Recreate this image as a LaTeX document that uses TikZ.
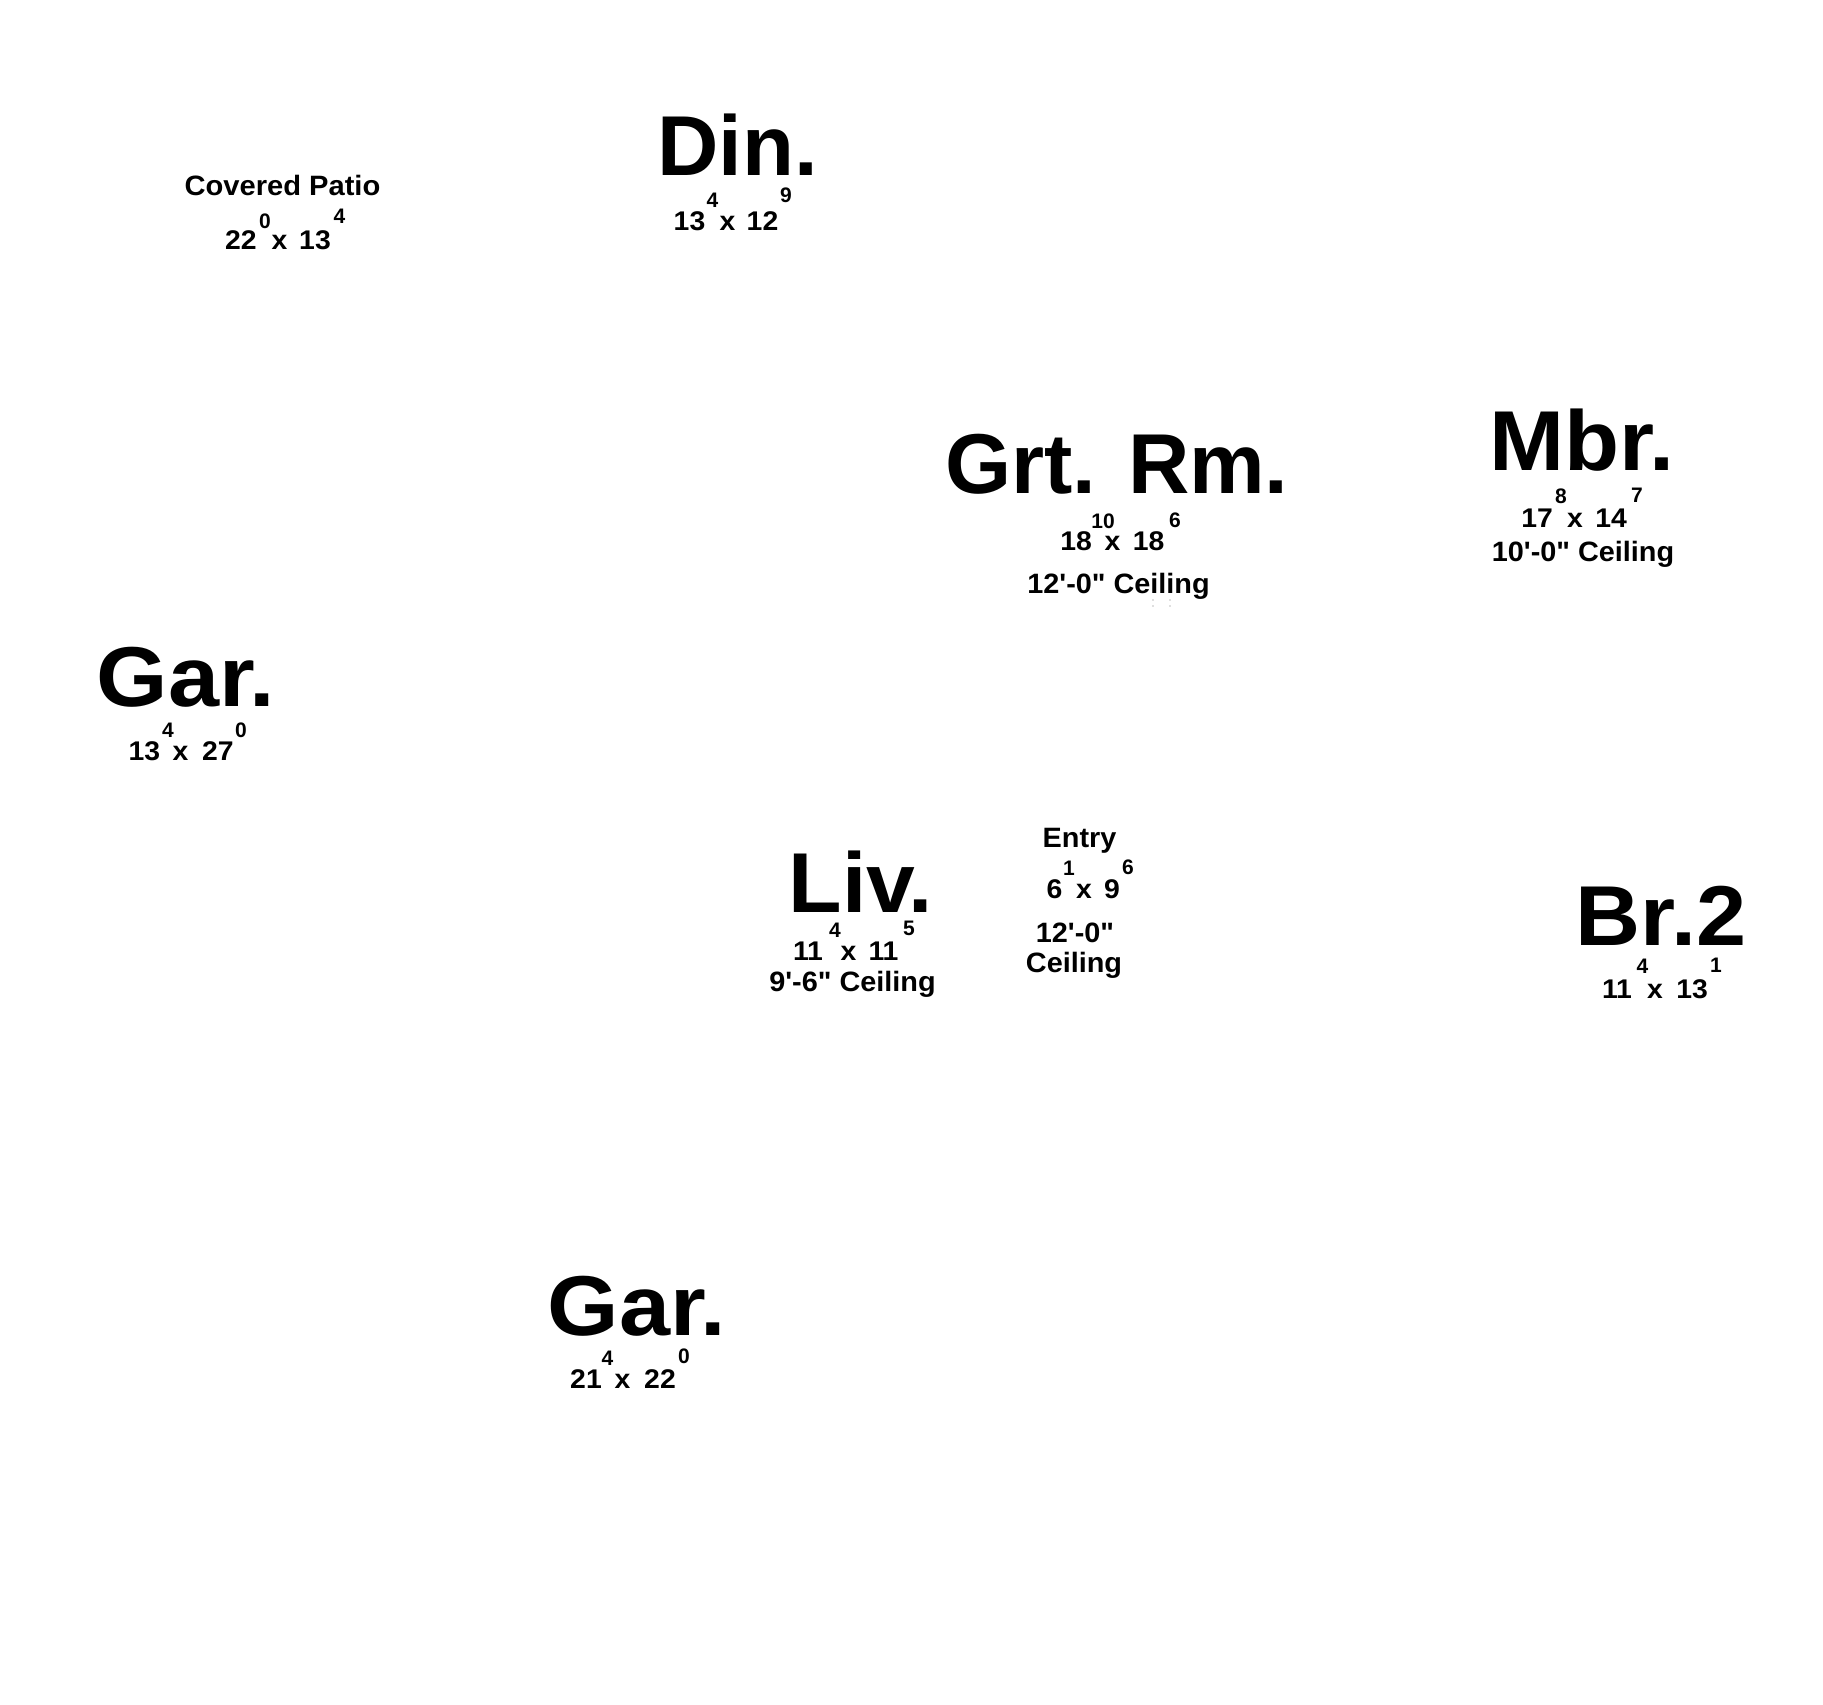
\documentclass[tikz,border=0pt]{standalone}
\usepackage{fontspec}
\setmainfont{Liberation Sans}
\newcommand{\hwide}[2]{\scalebox{#1}[1]{#2}}
\newcommand{\myft}{\textquotesingle}
\newcommand{\myinch}{\textquotedbl}
\begin{document}
\begin{tikzpicture}[x=0.5pt,y=-0.5pt,
  every node/.style={inner sep=0pt,outer sep=0pt,anchor=base,font=\bfseries},
  roomname/.style={font=\fontsize{42.5pt}{50pt}\selectfont\bfseries},
  smalltext/.style={font=\fontsize{14pt}{16pt}\selectfont\bfseries},
  dimnum/.style={font=\fontsize{13.5pt}{16pt}\selectfont\bfseries},
  supnum/.style={font=\fontsize{10.5pt}{12pt}\selectfont\bfseries}]
\fill[white] (0,0) rectangle (1823,1704);
\useasboundingbox (0,0) rectangle (1823,1704);

% Covered Patio
\node[smalltext] (cp) at (282.5,195) {\hwide{1.04}{Covered Patio}};
\node[dimnum] (cpa) at (241,249) {\hwide{1.05}{22}};
\node[supnum] (cpas) at (265,228) {0};
\node[dimnum] (cpx) at (279.5,249) {\hwide{1.05}{x}};
\node[dimnum] (cpb) at (315,249) {\hwide{1.05}{13}};
\node[supnum] (cpbs) at (339.5,223) {4};

% Din.
\node[roomname] (din) at (737.5,175) {Din.};
\node[dimnum] (dina) at (689.5,230) {\hwide{1.05}{13}};
\node[supnum] (dinas) at (712.5,207) {4};
\node[dimnum] (dinx) at (727.5,230) {\hwide{1.05}{x}};
\node[dimnum] (dinb) at (762.5,230) {\hwide{1.05}{12}};
\node[supnum] (dinbs) at (786,202) {9};

% Grt. Rm.
\node[roomname] (grt) at (1117,493) {Grt. Rm.};
\node[dimnum] (grta) at (1076,550) {\hwide{1.05}{18}};
\node[supnum] (grtas) at (1103,528) {10};
\node[dimnum] (grtx) at (1112.5,550) {\hwide{1.05}{x}};
\node[dimnum] (grtb) at (1148.5,550) {\hwide{1.05}{18}};
\node[supnum] (grtbs) at (1175,527) {6};
\node[smalltext] (grtc) at (1118.5,593) {\hwide{1.03}{12\myft-0\myinch{} Ceiling}};
\fill[black!25] (1153,600) circle (0.9) (1153,606) circle (0.9)
                (1170,600) circle (0.9) (1170,606) circle (0.9);

% Mbr.
\node[roomname] (mbr) at (1582,470) {\hwide{1.06}{Mbr.}};
\node[dimnum] (mbra) at (1537,527) {\hwide{1.05}{17}};
\node[supnum] (mbras) at (1561,503) {8};
\node[dimnum] (mbrx) at (1575,527) {\hwide{1.05}{x}};
\node[dimnum] (mbrb) at (1611,527) {\hwide{1.05}{14}};
\node[supnum] (mbrbs) at (1637,502) {7};
\node[smalltext] (mbrc) at (1583,561) {\hwide{1.03}{10\myft-0\myinch{} Ceiling}};

% Gar. (upper)
\node[roomname] (gara) at (186,706) {\hwide{1.08}{Gar.}};
\node[dimnum] (garaa) at (144.5,760) {\hwide{1.05}{13}};
\node[supnum] (garaas) at (168,737) {4};
\node[dimnum] (garax) at (180.5,760) {\hwide{1.05}{x}};
\node[dimnum] (garab) at (218,760) {\hwide{1.05}{27}};
\node[supnum] (garabs) at (241,737) {0};

% Liv.
\node[roomname] (liv) at (861,912) {\hwide{1.03}{Liv.}};
\node[dimnum] (liva) at (808,960) {\hwide{1.05}{11}};
\node[supnum] (livas) at (835,937) {4};
\node[dimnum] (livx) at (848.5,960) {\hwide{1.05}{x}};
\node[dimnum] (livb) at (883.5,960) {\hwide{1.05}{11}};
\node[supnum] (livbs) at (909,935) {5};
\node[smalltext] (livc) at (852.5,991) {\hwide{1.03}{9\myft-6\myinch{} Ceiling}};

% Entry
\node[smalltext] (ent) at (1079.5,847) {\hwide{1.03}{Entry}};
\node[dimnum] (enta) at (1054.5,898) {\hwide{1.05}{6}};
\node[supnum] (entas) at (1069,875) {1};
\node[dimnum] (entx) at (1084,898) {\hwide{1.05}{x}};
\node[dimnum] (entb) at (1112,898) {\hwide{1.05}{9}};
\node[supnum] (entbs) at (1128,874) {6};
\node[smalltext] (entc) at (1075,942) {\hwide{1.03}{12\myft-0\myinch}};
\node[smalltext] (entd) at (1074,972) {\hwide{1.03}{Ceiling}};

% Br.2
\node[roomname] (br) at (1661,945) {\hwide{1.06}{Br.2}};
\node[dimnum] (bra) at (1617,998) {\hwide{1.05}{11}};
\node[supnum] (bras) at (1642.5,973) {4};
\node[dimnum] (brx) at (1655,998) {\hwide{1.05}{x}};
\node[dimnum] (brb) at (1692,998) {\hwide{1.05}{13}};
\node[supnum] (brbs) at (1716,972) {1};

% Gar. (lower)
\node[roomname] (garb) at (637,1335) {\hwide{1.08}{Gar.}};
\node[dimnum] (garba) at (586,1388) {\hwide{1.05}{21}};
\node[supnum] (garbas) at (607.5,1365) {4};
\node[dimnum] (garbx) at (622.5,1388) {\hwide{1.05}{x}};
\node[dimnum] (garbb) at (660,1388) {\hwide{1.05}{22}};
\node[supnum] (garbbs) at (684,1363) {0};
\end{tikzpicture}
\end{document}
